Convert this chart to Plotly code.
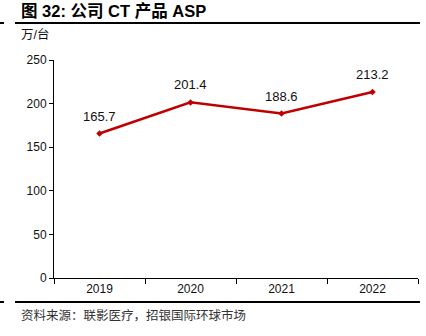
import plotly.graph_objects as go

years = ["2019", "2020", "2021", "2022"]
asp = [165.7, 201.4, 188.6, 213.2]
y_ticks = [0, 50, 100, 150, 200, 250]

W, H = 426, 336
L, R, T, B = 54, 8, 60, 58
plot_h = H - T - B
plot_w = W - L - R


def py(y_px):
    return (H - B - y_px) / plot_h


def px(x_px):
    return (x_px - L) / plot_w


fig = go.Figure()
fig.add_trace(go.Scatter(
    x=years, y=asp,
    mode="lines+markers",
    line=dict(color="#C00000", width=2.5),
    marker=dict(symbol="diamond", size=5, color="#C00000"),
    hoverinfo="skip",
))

# value labels above each point (category axis: position by index)
for i, v in enumerate(asp):
    fig.add_annotation(
        x=i, y=v, xref="x", yref="y", text=f"{v:.1f}", showarrow=False,
        yanchor="bottom", yshift=8,
        font=dict(family="Liberation Sans, Arial", size=13, color="#111"),
    )

fig.update_layout(
    width=W, height=H,
    margin=dict(l=L, r=R, t=T, b=B),
    paper_bgcolor="white", plot_bgcolor="white",
    showlegend=False,
    font=dict(family="Liberation Sans, Arial", size=12, color="#111"),
)
fig.update_xaxes(
    type="category",
    showline=True, linecolor="black", linewidth=1,
    ticks="outside", ticklen=5, tickcolor="black",
    tickson="boundaries",
    showgrid=False, zeroline=False,
    tickfont=dict(size=12),
    range=[-0.5, 3.5],
)
fig.update_yaxes(
    range=[0, 250], tickvals=y_ticks,
    showline=True, linecolor="black", linewidth=1,
    ticks="outside", ticklen=4, tickcolor="black",
    showgrid=False, zeroline=False,
    tickfont=dict(size=12),
)

# header and footer rules
for yy in (23, 302):
    fig.add_shape(type="line", xref="paper", yref="paper",
                  x0=px(15), x1=px(420), y0=py(yy), y1=py(yy),
                  line=dict(color="black", width=2))
    fig.add_shape(type="line", xref="paper", yref="paper",
                  x0=px(0), x1=px(4), y0=py(yy), y1=py(yy),
                  line=dict(color="black", width=2))

fig.add_annotation(
    text="<b>图 32: 公司 CT 产品 ASP</b>",
    xref="paper", yref="paper", x=px(19), y=py(11),
    xanchor="left", yanchor="middle", showarrow=False,
    font=dict(family="Liberation Sans, Noto Sans CJK SC", size=16.5, color="black"),
)
fig.add_annotation(
    text="万/台",
    xref="paper", yref="paper", x=px(19), y=py(34),
    xanchor="left", yanchor="middle", showarrow=False,
    font=dict(family="Liberation Sans, Noto Sans CJK SC", size=12.5, color="#111"),
)
fig.add_annotation(
    text="资料来源：联影医疗，招银国际环球市场",
    xref="paper", yref="paper", x=px(19), y=py(314),
    xanchor="left", yanchor="middle", showarrow=False,
    font=dict(family="Noto Sans CJK SC", size=12.5, color="#333"),
)

fig.write_html("out.html")
